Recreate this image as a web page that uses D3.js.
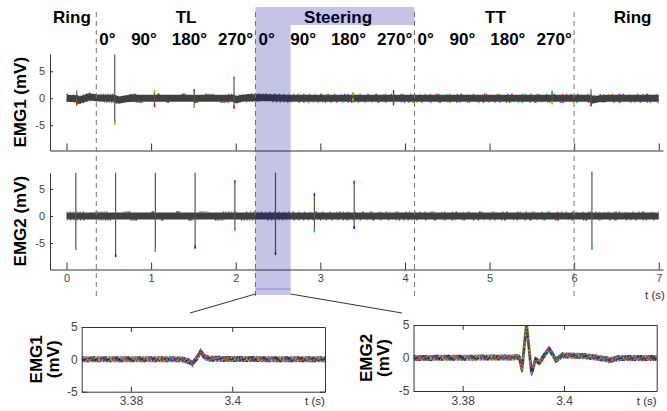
<!DOCTYPE html>
<html>
<head>
<meta charset="utf-8">
<script src="https://cdn.jsdelivr.net/npm/d3@7"></script>
<style>
  body { margin: 0; background: #fff; }
  svg { display: block; font-family: "Liberation Sans", Arial, sans-serif; }
</style>
</head>
<body>
<svg id="chart" width="667" height="411"></svg>
<script>
// ---- data ----
const phases = ["Ring", "TL", "Steering", "TT", "Ring"];
const phaseLabelT = [0.065, 1.413, 3.21, 5.07, 6.69];
const phaseBounds = [0.352, 2.233, 4.113, 5.999];
const angles = ["0°", "90°", "180°", "270°"];
const steeringWindow = [2.233, 2.649];
const xTicks = [0, 1, 2, 3, 4, 5, 6, 7];
const yTicks = [-5, 0, 5];

// slow baseline of the averaged trace [t, mV]
const emg1Base = [[0, 0], [0.12, -0.1], [0.15, -0.35], [0.2, -0.1], [0.27, 0.25], [0.35, 0.1], [0.45, 0],
  [0.56, 0], [0.62, -0.35], [0.7, -0.1], [0.8, 0], [1.97, 0], [2.01, -0.3], [2.06, -0.05], [2.15, 0.12],
  [2.4, 0.08], [2.6, 0], [6.19, 0], [6.22, -0.35], [6.3, -0.08], [6.4, 0], [7, 0]];
const emg2Base = [[0, 0], [7, 0]];

// stimulation artefacts [t, max mV, min mV]
const emg1Spikes = [[0.12, 1.4, -1.3], [0.57, 8.1, -4.9], [1.04, 1.5, -1.6], [1.51, 1.7, -1.8],
  [1.98, 4.0, -1.9], [3.385, 1.1, -0.5], [3.865, 1.5, -1.3], [5.74, 1.4, -1.1], [6.2, 1.6, -1.5]];
const emg2Spikes = [[0.11, 8.0, -6.3], [0.58, 8.0, -7.6], [1.05, 8.0, -6.6], [1.52, 8.0, -6.0],
  [1.99, 6.6, -2.7], [2.47, 8.0, -7.2], [2.93, 4.2, -3.0], [3.40, 6.5, -2.4], [6.21, 8.2, -6.2]];

// zoomed views [t, mV]
const zoomDomain = [3.3703, 3.4183];
const zoomXTicks = [3.38, 3.4];
const zoomEmg1 = [[3.3703, 0], [3.390, 0], [3.3915, -0.3], [3.3921, -0.7], [3.3930, 0.2], [3.3938, 1.2],
  [3.3946, 0.3], [3.3955, 0.1], [3.400, 0.05], [3.4183, 0]];
const zoomEmg2 = [[3.3703, 0], [3.3912, 0.1], [3.3917, -1.8], [3.3926, 5.2], [3.3936, -2.3], [3.3944, -0.2],
  [3.3952, -0.7], [3.3960, 0.3], [3.3971, 1.4], [3.3984, -0.3], [3.3997, 0.4], [3.404, 0.3], [3.407, 0],
  [3.409, -0.3], [3.411, 0], [3.4183, 0]];

// ---- drawing ----
const svg = d3.select("#chart");
const font = "'Liberation Sans', Arial, sans-serif";
const palette = ["#0000ff", "#008000", "#ff0000", "#00bfbf", "#bf00bf", "#bfbf00", "#404040"];

const x = d3.scaleLinear().domain([-0.195, 7.05]).range([50, 663]);

// phase headers
svg.append("g").selectAll("text")
    .data(phases)
    .enter()
    .append("text")
    .text(d => d)
    .attr("x", (d, i) => x(phaseLabelT[i]))
    .attr("y", 23)
    .attr("text-anchor", "middle")
    .style("font-weight", "bold")
    .style("font-size", "17px");

// angle labels inside TL, Steering and TT
const angleFrac = [0.07, 0.30, 0.585, 0.875];
for (let s = 0; s < 3; s++) {
    const x0 = x(phaseBounds[s]), x1 = x(phaseBounds[s + 1]);
    svg.append("g").selectAll("text")
        .data(angles)
        .enter()
        .append("text")
        .text(d => d)
        .attr("x", (d, i) => x0 + (x1 - x0) * angleFrac[i])
        .attr("y", 45)
        .attr("text-anchor", "middle")
        .style("font-weight", "bold")
        .style("font-size", "17px");
}

const panels = [
    { name: "EMG1 (mV)", base: emg1Base, spikes: emg1Spikes,
      y: d3.scaleLinear().domain([-9.7, 8.2]).range([150.5, 54]), labels: false },
    { name: "EMG2 (mV)", base: emg2Base, spikes: emg2Spikes,
      y: d3.scaleLinear().domain([-9.9, 8.0]).range([269.5, 172.7]), labels: true }
];

panels.forEach((p, k) => {
    const g = svg.append("g");
    const line = d3.line().x(d => x(d[0])).y(d => p.y(d[1]));

    // coloured trials peeking out of the averaged band
    [-3.9, 3.9].forEach((off, j) => {
        palette.slice(0, 6).forEach((c, ci) => {
            g.append("path")
                .attr("d", line(p.base))
                .attr("transform", "translate(0," + off + ")")
                .attr("fill", "none")
                .attr("stroke", c)
                .attr("stroke-width", 1.1)
                .attr("stroke-dasharray", "1.3 " + (22 + j * 3 + ci))
                .attr("stroke-dashoffset", ci * 4.3 + j * 2.6 + k * 7);
        });
    });

    g.append("path")
        .attr("d", line(p.base))
        .attr("fill", "none")
        .attr("stroke", "#404040")
        .attr("stroke-width", 7);

    // artefact spikes
    g.append("g").selectAll("line")
        .data(p.spikes)
        .enter()
        .append("line")
        .attr("x1", d => x(d[0])).attr("x2", d => x(d[0]))
        .attr("y1", d => p.y(d[1])).attr("y2", d => p.y(d[2]))
        .attr("stroke", "#555")
        .attr("stroke-width", 1.2);

    g.append("g").selectAll("line")
        .data(p.spikes)
        .enter()
        .append("line")
        .attr("x1", d => x(d[0])).attr("x2", d => x(d[0]))
        .attr("y1", d => p.y(d[2])).attr("y2", d => p.y(d[2]) - 3)
        .attr("stroke", (d, i) => palette[(i * 3 + k + 2) % 6])
        .attr("stroke-width", 1.3);

    g.append("g").selectAll("line")
        .data(p.spikes.filter(d => d[1] < 7.5))
        .enter()
        .append("line")
        .attr("x1", d => x(d[0])).attr("x2", d => x(d[0]))
        .attr("y1", d => p.y(d[1])).attr("y2", d => p.y(d[1]) + 3)
        .attr("stroke", (d, i) => palette[(i * 2 + k + 3) % 6])
        .attr("stroke-width", 1.3);

    // axes
    const xAxis = g.append("g")
        .attr("transform", "translate(0," + p.y.range()[0] + ")")
        .call(d3.axisBottom(x).tickValues(xTicks).tickSize(-7).tickSizeOuter(0).tickPadding(5)
            .tickFormat(p.labels ? (d => String(d)) : () => ""));
    const yAxis = g.append("g")
        .attr("transform", "translate(" + x.range()[0] + ",0)")
        .call(d3.axisLeft(p.y).tickValues(yTicks).tickSize(-3).tickSizeOuter(0).tickPadding(5)
            .tickFormat(d => String(d)));
    [xAxis, yAxis].forEach(a => {
        a.attr("font-family", font).attr("font-size", 11);
        a.selectAll("path,line").attr("stroke", "#333");
        a.selectAll("text").attr("fill", "#444");
    });

    g.append("text")
        .text(p.name)
        .attr("transform", "translate(26," + d3.mean(p.y.range()) + ") rotate(-90)")
        .attr("text-anchor", "middle")
        .style("font-weight", "bold")
        .style("font-size", "17px");
});

svg.append("text")
    .text("t (s)")
    .attr("x", 655).attr("y", 299)
    .attr("text-anchor", "middle")
    .attr("fill", "#333")
    .style("font-size", "11.5px");

// phase boundaries
svg.append("g").selectAll("line")
    .data(phaseBounds)
    .enter()
    .append("line")
    .attr("x1", d => x(d)).attr("x2", d => x(d))
    .attr("y1", 12).attr("y2", 296)
    .attr("stroke", "#777")
    .attr("stroke-width", 1)
    .attr("stroke-dasharray", "5 4");

// steering highlight
const sx0 = x(steeringWindow[0]), sx1 = x(steeringWindow[1]), hx1 = x(phaseBounds[2]);
svg.append("path")
    .attr("d", `M${sx0},7 H${hx1} V25 H${sx1} V295 H${sx0} Z`)
    .attr("fill", "rgb(0,0,150)")
    .attr("fill-opacity", 0.23);
svg.append("line")
    .attr("x1", sx0).attr("x2", sx1).attr("y1", 289).attr("y2", 289)
    .attr("stroke", "#8a8ad0").attr("stroke-width", 1);

// zoom connectors
svg.append("line").attr("x1", sx0).attr("y1", 294).attr("x2", 190).attr("y2", 313)
    .attr("stroke", "#333").attr("stroke-width", 1);
svg.append("line").attr("x1", sx1).attr("y1", 294).attr("x2", 402).attr("y2", 313)
    .attr("stroke", "#333").attr("stroke-width", 1);

// zoomed insets
const insets = [
    { lines: ["EMG1", "(mV)"], data: zoomEmg1, left: 81.7, right: 325, top: 327, bottom: 391.7, lx: 42 },
    { lines: ["EMG2", "(mV)"], data: zoomEmg2, left: 413.5, right: 656.7, top: 325, bottom: 391, lx: 372 }
];

insets.forEach((ins, k) => {
    const zx = d3.scaleLinear().domain(zoomDomain).range([ins.left, ins.right]);
    const zy = d3.scaleLinear().domain([-5, 5]).range([ins.bottom, ins.top]);
    const g = svg.append("g");
    const clipId = "clip" + k;
    g.append("clipPath").attr("id", clipId)
        .append("rect")
        .attr("x", ins.left).attr("y", ins.top)
        .attr("width", ins.right - ins.left).attr("height", ins.bottom - ins.top);

    const line = d3.line().x(d => zx(d[0])).y(d => zy(d[1]));
    const traces = g.append("g").attr("clip-path", "url(#" + clipId + ")");
    traces.append("path")
        .attr("d", line(ins.data))
        .attr("fill", "none")
        .attr("stroke", "#7a7a30")
        .attr("stroke-width", 3);
    [-2.4, -1.6, -0.8, 0, 0.8, 1.6, 2.4].forEach((off, j) => {
        palette.forEach((c, ci) => {
            traces.append("path")
                .attr("d", line(ins.data))
                .attr("transform", "translate(0," + off + ")")
                .attr("fill", "none")
                .attr("stroke", c)
                .attr("stroke-width", 1.2)
                .attr("stroke-dasharray", "1.5 " + (9.8 + (j % 3) * 0.9))
                .attr("stroke-dashoffset", ci * 1.7 + j * 2.9);
        });
    });

    const axes = [
        g.append("g").attr("transform", "translate(0," + ins.bottom + ")")
            .call(d3.axisBottom(zx).tickValues(zoomXTicks).tickSize(-5).tickSizeOuter(0).tickPadding(5)
                .tickFormat(d => String(d))),
        g.append("g").attr("transform", "translate(0," + ins.top + ")")
            .call(d3.axisTop(zx).tickValues(zoomXTicks).tickSize(-5).tickSizeOuter(0).tickFormat(() => "")),
        g.append("g").attr("transform", "translate(" + ins.left + ",0)")
            .call(d3.axisLeft(zy).tickValues(yTicks).tickSize(-5).tickSizeOuter(0).tickPadding(4)
                .tickFormat(d => String(d))),
        g.append("g").attr("transform", "translate(" + ins.right + ",0)")
            .call(d3.axisRight(zy).tickValues(yTicks).tickSize(-5).tickSizeOuter(0).tickFormat(() => ""))
    ];
    axes.forEach(a => {
        a.attr("font-family", font).attr("font-size", 12);
        a.selectAll("path,line").attr("stroke", "#333");
        a.selectAll("text").attr("fill", "#444");
    });

    g.append("text")
        .text("t (s)")
        .attr("x", ins.right - 10).attr("y", 405)
        .attr("text-anchor", "middle")
        .attr("fill", "#333")
        .style("font-size", "11.5px");

    g.append("text")
        .attr("transform", "translate(" + ins.lx + "," + zy(0) + ") rotate(-90)")
        .attr("text-anchor", "middle")
        .style("font-weight", "bold")
        .style("font-size", "17px")
        .selectAll("tspan")
        .data(ins.lines)
        .enter()
        .append("tspan")
        .attr("x", 0)
        .attr("dy", (d, i) => i === 0 ? 0 : 17)
        .text(d => d);
});
</script>
</body>
</html>
